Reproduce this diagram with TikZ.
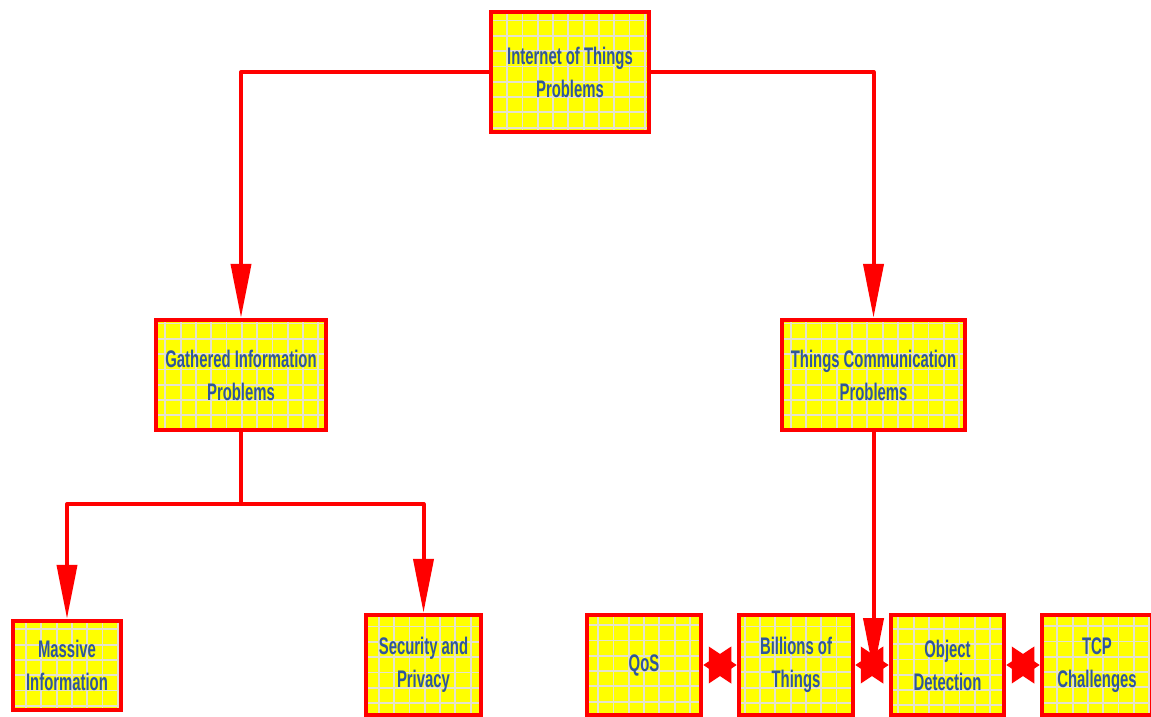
\documentclass[tikz,border=0pt]{standalone}
\usepackage{fontspec}
\setmainfont{Liberation Sans}[FakeStretch=0.62]
\usetikzlibrary{arrows.meta}
\definecolor{boxred}{RGB}{255,0,0}
\definecolor{txtblue}{RGB}{47,86,156}
\definecolor{gridc}{RGB}{228,226,205}
\definecolor{boxyel}{RGB}{255,255,0}
\tikzset{
  box/.style={draw=boxred, line width=4.5pt, fill=boxyel, rectangle, inner sep=0pt,
    align=center, text=txtblue, font=\bfseries\fontsize{24}{33}\selectfont,
    path picture={\draw[gridc,line width=1.8pt]
      (path picture bounding box.south west) grid[step=15.3pt]
      (path picture bounding box.north east);}},
  conn/.style={draw=boxred, line width=4pt, line join=round,
    -{Triangle[length=54pt,width=20pt]}},
  plain/.style={draw=boxred, line width=4pt, line join=round},
  dbl/.style={draw=boxred, line width=4pt,
    {Triangle[length=28pt,width=36pt]}-{Triangle[length=28pt,width=36pt]}}
}
\begin{document}
\begin{tikzpicture}[x=1pt,y=-1pt]
\useasboundingbox (0,0) rectangle (1151,717);
\node[box, minimum width=158pt, minimum height=120pt] (top) at (570,72) {Internet of Things\\Problems};
\node[box, minimum width=170pt, minimum height=110pt] (gath) at (241,375) {Gathered Information\\Problems};
\node[box, minimum width=183pt, minimum height=110pt] (comm) at (873.5,375) {Things Communication\\Problems};
\node[box, minimum width=108pt, minimum height=89pt] (mass) at (67,665.5) {Massive\\Information};
\node[box, minimum width=115pt, minimum height=100pt] (sec) at (423.5,665) {Security and\\Privacy};
\node[box, minimum width=114pt, minimum height=100pt] (qos) at (644,665) {QoS};
\node[box, minimum width=114pt, minimum height=100pt] (bill) at (796,665) {Billions of\\Things};
\node[box, minimum width=113pt, minimum height=100pt] (obj) at (947.5,665) {Object\\Detection};
\node[box, minimum width=110pt, minimum height=100pt] (tcp) at (1097,665) {TCP\\Challenges};
\coordinate (gj) at (241,504);
\coordinate (cj) at (873.5,672);
\draw[conn] (top.west) -| (gath.north);
\draw[conn] (top.east) -| (comm.north);
\draw[plain] (gath.south) -- (gj);
\draw[conn] (gj) -| (mass.north);
\draw[conn] (gj) -| (sec.north);
\draw[conn] (comm.south) -- (cj);
\draw[dbl] (qos.east) -- (bill.west);
\draw[dbl] (bill.east) -- (obj.west);
\draw[dbl] (obj.east) -- (tcp.west);
\end{tikzpicture}
\end{document}
